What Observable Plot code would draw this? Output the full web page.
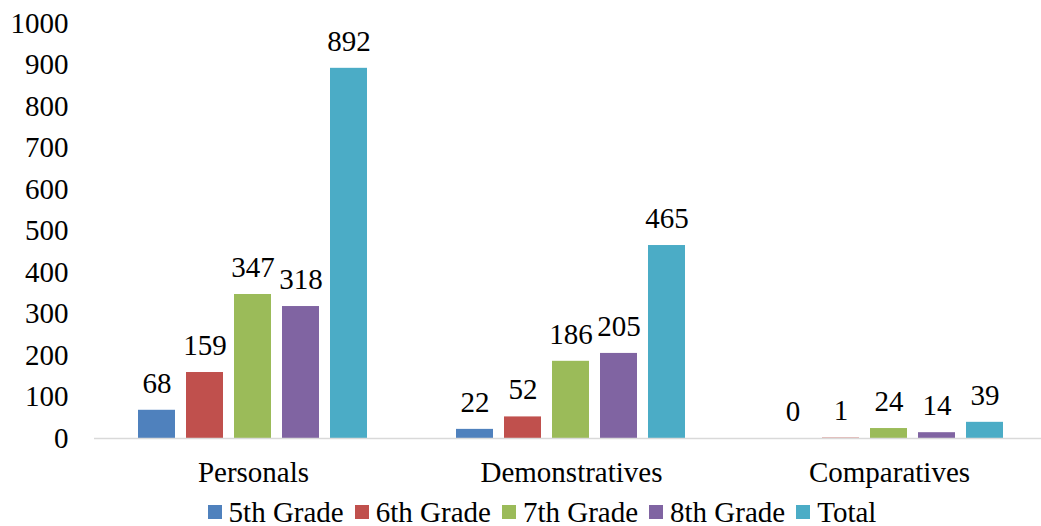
<!DOCTYPE html>
<html>
<head>
<meta charset="utf-8">
<script src="https://cdn.jsdelivr.net/npm/d3@7"></script>
<script src="https://cdn.jsdelivr.net/npm/@observablehq/plot@0.6"></script>
<style>
  html, body { margin: 0; padding: 0; background: #fff; overflow: hidden; }
  #chart svg text { font-family: "Liberation Serif", "Times New Roman", Times, serif; font-size: 29px; fill: #000; }
  #legend { display: flex; justify-content: center; align-items: center; height: 36px; padding-top: 4px; padding-left: 54px;
            font-family: "Liberation Serif", "Times New Roman", Times, serif; font-size: 29px; line-height: 36px; color: #000; }
  #legend .item { display: flex; align-items: center; margin-right: 11px; }
  #legend .sw { width: 14px; height: 14px; margin-right: 7px; }
</style>
</head>
<body>
<div id="chart"></div>
<div id="legend"></div>
<script>
const categories = ["Personals", "Demonstratives", "Comparatives"];
const series = ["5th Grade", "6th Grade", "7th Grade", "8th Grade", "Total"];
const grade5 = [68, 22, 0];
const grade6 = [159, 52, 1];
const grade7 = [347, 186, 24];
const grade8 = [318, 205, 14];
const total = [892, 465, 39];
const yTicks = [0, 100, 200, 300, 400, 500, 600, 700, 800, 900, 1000];
const colors = ["#4F81BD", "#C0504D", "#9BBB59", "#8064A2", "#4BACC6"];

const seriesValues = [grade5, grade6, grade7, grade8, total];
const data = [];
categories.forEach((c, i) => {
  series.forEach((s, j) => {
    data.push({category: c, series: s, value: seriesValues[j][i]});
  });
});

const serif = '"Liberation Serif", "Times New Roman", Times, serif';

const chart = Plot.plot({
  width: 1041,
  height: 490,
  marginLeft: 93,
  marginRight: 0,
  marginTop: 23,
  marginBottom: 52,
  style: {fontFamily: serif, fontSize: "29px", background: "white", color: "black"},
  fx: {domain: categories, range: [93, 1049], padding: 0, axis: "bottom", label: null, tickSize: 0, tickPadding: 23},
  x: {domain: series, paddingInner: 0.22, paddingOuter: 0.875, axis: null},
  y: {domain: [0, 1000], ticks: yTicks, tickFormat: d => String(d), tickSize: 0, tickPadding: 26, label: null, grid: false},
  color: {domain: series, range: colors},
  marks: [
    Plot.barY(data, {fx: "category", x: "series", y: "value", fill: "series"}),
    Plot.ruleY([0], {stroke: "#d9d9d9", strokeWidth: 1.5}),
    Plot.text(data, {fx: "category", x: "series", y: "value", text: d => String(d.value), lineAnchor: "middle", dy: -27, fill: "black"})
  ]
});
document.getElementById("chart").appendChild(chart);

const legend = document.getElementById("legend");
series.forEach((s, i) => {
  const item = document.createElement("div");
  item.className = "item";
  const sw = document.createElement("span");
  sw.className = "sw";
  sw.style.background = colors[i];
  const t = document.createElement("span");
  t.textContent = s;
  item.appendChild(sw);
  item.appendChild(t);
  legend.appendChild(item);
});
</script>
</body>
</html>
